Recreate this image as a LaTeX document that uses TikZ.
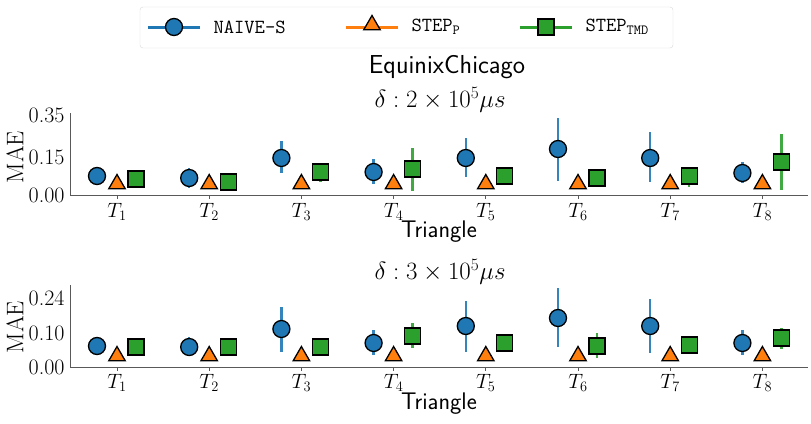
\documentclass[tikz,border=0pt]{standalone}
\usepackage{fontspec}
\usepackage{tikz}
\usetikzlibrary{shapes.geometric, positioning}
\definecolor{tabblue}{HTML}{1F77B4}
\definecolor{taborange}{HTML}{FF7F0E}
\definecolor{tabgreen}{HTML}{2CA02C}
\tikzset{
    base/.style={draw=black, line width=1.3pt, inner sep=0pt},
    circ/.style={base, circle, fill=tabblue, minimum size=17pt},
    tri/.style={base, regular polygon, regular polygon sides=3, fill=taborange, minimum size=19pt},
    sq/.style={base, rectangle, fill=tabgreen, minimum size=16pt},
    errb/.style={line width=2.4pt, opacity=0.9},
    spine/.style={draw=gray!70!black, line width=1pt},
    ticklab/.style={font=\fontsize{22}{22}\selectfont, anchor=east},
    tlab/.style={font=\fontsize{21}{21}\selectfont},
    axlab/.style={font=\sffamily\fontsize{24}{24}\selectfont},
    legtext/.style={font=\ttfamily\fontsize{20}{20}\selectfont, anchor=west}
}
\begin{document}
\begin{tikzpicture}[x=1pt, y=-1pt]
    \useasboundingbox (0,0) rectangle (811,423);
    % legend
    \node [draw=gray!30, rounded corners=3pt, minimum width=533pt, minimum height=41pt] (Legend) at (406.5,27.5) {};
    \draw [tabblue, line width=3pt] (148,27) -- (200,27);
    \node [circ] (LegC) at (174,27) {};
    \node [legtext] (LegCt) at (210,27) {NAIVE-S};
    \draw [taborange, line width=3pt] (346,27) -- (398,27);
    \node [tri] (LegT) at (372,25) {};
    \node [legtext] (LegTt) at (408,27) {STEP\textsubscript{P}};
    \draw [tabgreen, line width=3pt] (520,27) -- (572,27);
    \node [sq] (LegS) at (546,27) {};
    \node [legtext] (LegSt) at (582,27) {STEP\textsubscript{TMD}};
    \node [font=\sffamily\fontsize{26}{26}\selectfont] (Title) at (447,67) {EquinixChicago};

    % panel 1
    \node [tlab, font=\fontsize{23}{23}\selectfont] (Sub1) at (440,100) {$\delta : 2\times10^5\mu s$};
    \draw [spine] (70,113) -- (70,195) -- (808,195);
    \foreach \v/\y in {0.35/115, 0.15/157, 0.00/195}
        \node [ticklab] at (68,\y) {\v};
    \node [rotate=90, font=\fontsize{24}{24}\selectfont] (Mae1) at (15,157) {MAE};
    \foreach \i/\cy/\clo/\chi/\sy/\slo/\shi in {1/176/167/183/179/178/180, 2/178/168/188/182/181/183,
        3/158/141/173/172/163/182, 4/172/159/184/169/148/191, 5/158/138/177/176/175/177,
        6/149/118/181/178/177/179, 7/158/132/182/176/173/187, 8/173/162/183/162/134/190} {
        \pgfmathsetmacro{\xx}{117+92.2*(\i-1)}
        \draw [spine] (\xx,195) -- (\xx,199);
        \node [tlab] (T1\i) at (\xx,212) {$T_{\i}$};
        \draw [tabblue, errb] (\xx-20,\clo) -- (\xx-20,\chi);
        \draw [tabgreen, errb] (\xx+19,\slo) -- (\xx+19,\shi);
        \node [circ] (C1\i) at (\xx-20,\cy) {};
        \node [tri] (P1\i) at (\xx,184) {};
        \node [sq] (S1\i) at (\xx+19,\sy) {};
    }
    \node [axlab] (X1) at (439,232) {Triangle};

    % panel 2
    \node [tlab, font=\fontsize{23}{23}\selectfont] (Sub2) at (440,272) {$\delta : 3\times10^5\mu s$};
    \draw [spine] (70,285) -- (70,367) -- (808,367);
    \foreach \v/\y in {0.24/298, 0.10/333, 0.00/367}
        \node [ticklab] at (68,\y) {\v};
    \node [rotate=90, font=\fontsize{24}{24}\selectfont] (Mae2) at (15,327) {MAE};
    \foreach \i/\cy/\clo/\chi/\sy/\slo/\shi in {1/346/339/354/347/346/348, 2/347/337/356/347/346/348,
        3/329/307/352/347/346/348, 4/343/330/355/336/323/348, 5/326/301/352/343/335/351,
        6/318/288/347/346/333/358, 7/326/299/353/345/336/352, 8/343/330/355/338/328/349} {
        \pgfmathsetmacro{\xx}{117+92.2*(\i-1)}
        \draw [spine] (\xx,367) -- (\xx,371);
        \node [tlab] (T2\i) at (\xx,383) {$T_{\i}$};
        \draw [tabblue, errb] (\xx-20,\clo) -- (\xx-20,\chi);
        \draw [tabgreen, errb] (\xx+19,\slo) -- (\xx+19,\shi);
        \node [circ] (C2\i) at (\xx-20,\cy) {};
        \node [tri] (P2\i) at (\xx,356) {};
        \node [sq] (S2\i) at (\xx+19,\sy) {};
    }
    \node [axlab] (X2) at (439,404) {Triangle};
\end{tikzpicture}
\end{document}
